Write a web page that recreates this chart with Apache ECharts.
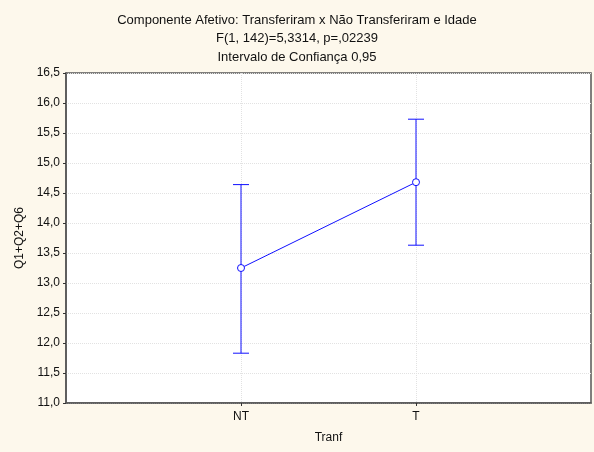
<!DOCTYPE html>
<html>
<head>
<meta charset="utf-8">
<script src="https://cdn.jsdelivr.net/npm/echarts@6/dist/echarts.min.js"></script>
<style>
  html, body { margin: 0; padding: 0; background: #fdf8ec; }
  #chart { width: 594px; height: 452px; }
</style>
</head>
<body>
<div id="chart"></div>
<script>
// dados
const categories = ['', 'NT', 'T', ''];
const means = [null, 13.25, 14.68, null];
const lower = [null, 11.83, 13.63, null];
const upper = [null, 14.64, 15.73, null];
const yTicks = { min: 11, max: 16.5, step: 0.5 };

const myChart = echarts.init(document.getElementById('chart'));
const blue = '#1010ff';
const font = 'Liberation Sans, Arial, sans-serif';

// barras de erro (intervalo de confiança)
const errData = [];
for (let i = 0; i < categories.length; i++) {
  if (means[i] != null) errData.push([i, lower[i], upper[i]]);
}

const option = {
  backgroundColor: '#fdf8ec',
  textStyle: { fontFamily: font },
  title: {
    text: 'Componente Afetivo: Transferiram x Não Transferiram e Idade\nF(1, 142)=5,3314, p=,02239\nIntervalo de Confiança 0,95',
    left: 'center',
    top: 6,
    textStyle: { fontSize: 13, fontWeight: 'normal', color: '#111', lineHeight: 18.5, fontFamily: font }
  },
  grid: {
    left: 66, right: 3, top: 73, bottom: 49,
    show: true,
    backgroundColor: '#fff',
    borderColor: '#555',
    borderWidth: 1.5
  },
  xAxis: {
    type: 'category',
    data: categories,
    boundaryGap: false,
    name: 'Tranf',
    nameLocation: 'middle',
    nameGap: 29,
    nameTextStyle: { fontSize: 12, color: '#111' },
    axisLine: { lineStyle: { color: '#555', width: 1.5 } },
    axisTick: { show: true, length: 3, lineStyle: { color: '#333' }, interval: (i) => categories[i] !== '' },
    axisLabel: { fontSize: 12, color: '#111', margin: 8 },
    splitLine: { show: true, interval: (i) => categories[i] !== '', lineStyle: { color: '#e2e2e2', type: 'dotted' } }
  },
  yAxis: {
    type: 'value',
    min: yTicks.min,
    max: yTicks.max,
    interval: yTicks.step,
    name: 'Q1+Q2+Q6',
    nameLocation: 'middle',
    nameGap: 39,
    nameTextStyle: { fontSize: 12, color: '#111' },
    axisLine: { show: true, lineStyle: { color: '#555', width: 1.5 } },
    axisTick: { show: true, length: 3, lineStyle: { color: '#333' } },
    axisLabel: {
      fontSize: 12, color: '#111', margin: 6,
      formatter: (v) => v.toFixed(1).replace('.', ',')
    },
    splitLine: { show: true, lineStyle: { color: '#e2e2e2', type: 'dotted' } }
  },
  series: [
    {
      type: 'custom',
      data: errData,
      z: 2,
      renderItem: function (params, api) {
        const x = api.value(0);
        const lo = api.coord([x, api.value(1)]);
        const hi = api.coord([x, api.value(2)]);
        const hw = 8;
        const style = { stroke: blue, lineWidth: 1 };
        return {
          type: 'group',
          children: [
            { type: 'line', shape: { x1: lo[0], y1: lo[1], x2: hi[0], y2: hi[1] }, style: style },
            { type: 'line', shape: { x1: lo[0] - hw, y1: lo[1], x2: lo[0] + hw, y2: lo[1] }, style: style },
            { type: 'line', shape: { x1: hi[0] - hw, y1: hi[1], x2: hi[0] + hw, y2: hi[1] }, style: style }
          ]
        };
      }
    },
    {
      type: 'line',
      data: means,
      z: 3,
      connectNulls: true,
      symbol: 'circle',
      symbolSize: 7,
      showAllSymbol: true,
      lineStyle: { color: blue, width: 1 },
      itemStyle: { color: '#fff', borderColor: blue, borderWidth: 1 },
      animation: false
    }
  ],
  animation: false
};

myChart.setOption(option);
</script>
</body>
</html>
